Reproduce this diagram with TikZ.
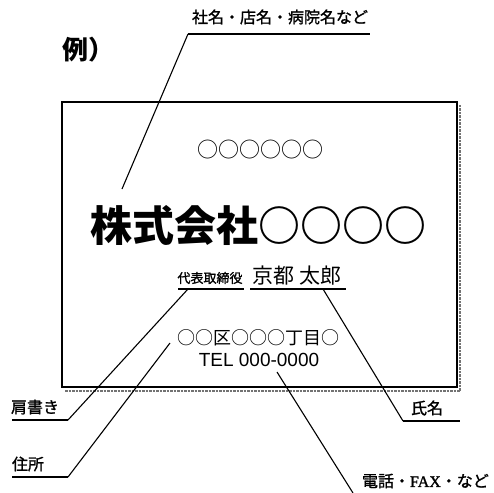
\documentclass[tikz,border=0pt]{standalone}
\usepackage{fontspec}
\newfontfamily\jp{Noto Sans CJK JP}
\newfontfamily\jpm{Noto Sans CJK JP}[FakeBold=1.3]
\newfontfamily\sansf{Liberation Sans}
\newfontfamily\seriff{Liberation Serif}[FakeBold=1.3]
\tikzset{
  lead/.style={line width=1.1pt, black},
  uline/.style={line width=1.2pt, black},
  cardbox/.style={draw=black, line width=1.4pt, fill=white, minimum width=395pt, minimum height=285pt},
  shadowline/.style={draw=black!55, line width=2.5pt, densely dotted},
  lbl/.style={font=\jpm\fontsize{16}{16}\selectfont},
}
\begin{document}
\begin{tikzpicture}[x=1pt,y=-1pt, every node/.style={inner sep=0pt, outer sep=0pt}]
\useasboundingbox (0,0) rectangle (494,492);
\fill[white] (0,0) rectangle (494,492);

% card with shadow
\draw[shadowline] (65,391) -- (460,391) -- (460,105);
\node[cardbox] (card) at (259.5,244.5) {};

% title
\node[anchor=west, font=\jp\bfseries\fontsize{26}{26}\selectfont] (rei) at (62,50) {例）};

% card texts
\node[font=\jp\fontsize{21}{21}\selectfont] (tag) at (260,150) {○○○○○○};
\node[font=\jp\bfseries\fontsize{42}{42}\selectfont] (company) at (258,225) {株式会社○○○○};
\node[font=\jpm\fontsize{13}{13}\selectfont] (title) at (210,278) {代表取締役};
\node[font=\jp\fontsize{21}{21}\selectfont] (name) at (297,276) {京都\hspace{6pt}太郎};
\node[font=\jp\fontsize{18}{18}\selectfont] (addr) at (258,338) {○○区○○○丁目○};
\node[font=\sansf\fontsize{19}{19}\selectfont] (tel) at (259,360) {TEL 000-0000};

% outside labels
\node[lbl] (lco) at (280,17) {社名・店名・病院名など};
\node[lbl] (lkata) at (35,407) {肩書き};
\node[lbl] (ljusho) at (28,464) {住所};
\node[lbl] (lshimei) at (427,408) {氏名};
\node[lbl, anchor=west] (ltel) at (362,481) {電話・{\seriff FAX}・など};

% anchor coordinates
\coordinate (coL) at (188,34);
\coordinate (coR) at (370,34);
\coordinate (coP) at (122,189);
\coordinate (tiL) at (178,289);
\coordinate (tiR) at (244,289);
\coordinate (naL) at (250,289);
\coordinate (naR) at (346,289);
\coordinate (naP) at (323,289);
\coordinate (kaL) at (12,420);
\coordinate (kaR) at (68,420);
\coordinate (kaP) at (188,289);
\coordinate (juL) at (12,477);
\coordinate (juR) at (68,477);
\coordinate (juP) at (170,343);
\coordinate (shL) at (403,421);
\coordinate (shR) at (460,421);
\coordinate (teP) at (277,372);
\coordinate (teE) at (353,493);

% underlines
\draw[uline] (coL) -- (coR);
\draw[uline] (tiL) -- (tiR);
\draw[uline] (naL) -- (naR);
\draw[uline] (kaL) -- (kaR);
\draw[uline] (juL) -- (juR);
\draw[uline] (shL) -- (shR);

% leaders
\draw[lead] (coL) -- (coP);
\draw[lead] (kaR) -- (kaP);
\draw[lead] (juR) -- (juP);
\draw[lead] (shL) -- (naP);
\draw[lead] (teP) -- (teE);
\end{tikzpicture}
\end{document}
